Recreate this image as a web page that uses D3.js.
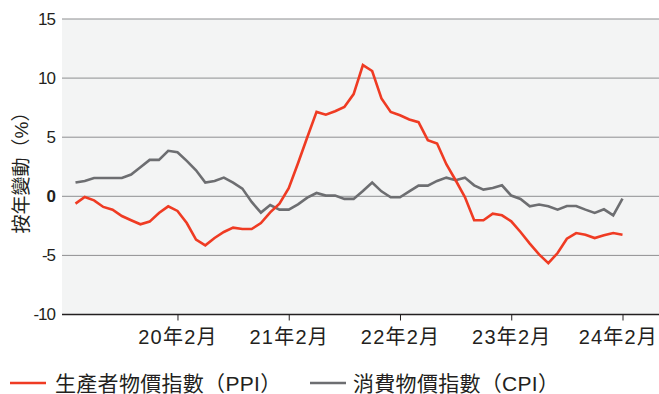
<!DOCTYPE html>
<html>
<head>
<meta charset="utf-8">
<script src="https://cdn.jsdelivr.net/npm/d3@7"></script>
<style>
  html, body { margin: 0; padding: 0; background: #ffffff; }
  svg { display: block; }
  text { font-family: "Liberation Sans", "Noto Sans CJK TC", sans-serif; fill: #231f20; }
</style>
</head>
<body>
<svg id="chart" width="659" height="394"></svg>
<script>
// Monthly observations, March 2019 through February 2024
const months = d3.range(60).map(i => new Date(2019, 2 + i, 1));

// Producer price index, year-on-year %
const ppi = [
  -0.62, -0.06, -0.34, -0.90, -1.13, -1.67, -2.03, -2.37, -2.14, -1.41,
  -0.85, -1.24, -2.26, -3.67, -4.15, -3.53, -3.02, -2.65, -2.77, -2.77,
  -2.26, -1.36, -0.62, 0.68, 2.80, 5.00, 7.14, 6.90, 7.20, 7.55,
  8.65, 11.10, 10.60, 8.28, 7.14, 6.86, 6.50, 6.27, 4.75, 4.47,
  2.71, 1.36, -0.06, -2.03, -2.03, -1.47, -1.61, -2.12, -3.02, -4.00,
  -4.92, -5.65, -4.80, -3.59, -3.11, -3.25, -3.53, -3.30, -3.11, -3.25
];

// Consumer price index, year-on-year %
const cpi = [
  1.16, 1.30, 1.55, 1.55, 1.55, 1.55, 1.84, 2.45, 3.08, 3.08,
  3.85, 3.72, 3.00, 2.20, 1.16, 1.30, 1.58, 1.16, 0.65, -0.48,
  -1.38, -0.74, -1.13, -1.13, -0.68, -0.11, 0.28, 0.06, 0.06, -0.22,
  -0.22, 0.45, 1.16, 0.42, -0.08, -0.08, 0.42, 0.90, 0.90, 1.30,
  1.58, 1.36, 1.58, 0.93, 0.57, 0.70, 0.93, 0.06, -0.23, -0.85,
  -0.70, -0.85, -1.13, -0.82, -0.82, -1.13, -1.41, -1.10, -1.61, -0.20
];

const yTicks = [15, 10, 5, 0, -5, -10];
const xTickIndex = [11, 23, 35, 47, 59];
const xTickLabels = ["20年2月", "21年2月", "22年2月", "23年2月", "24年2月"];

const seriesNames = ["生產者物價指數（PPI）", "消費物價指數（CPI）"];
const seriesColors = ["#ef3b23", "#6d6e71"];

const W = 659, H = 394;
const plot = { left: 62, right: 659, top: 19, bottom: 314.5 };

const svg = d3.select("#chart");

const x = d3.scaleLinear().domain([0, months.length - 1]).range([75.5, 622.5]);
const y = d3.scaleLinear().domain([-10, 15]).range([plot.bottom, plot.top]);

// Plot background
svg.append("rect")
  .attr("x", plot.left).attr("y", plot.top)
  .attr("width", plot.right - plot.left).attr("height", plot.bottom - plot.top)
  .attr("fill", "#f3f4f4");

// Horizontal gridlines
svg.append("g").selectAll("line")
  .data(yTicks.filter(v => v !== -10))
  .join("line")
  .attr("x1", plot.left).attr("x2", plot.right)
  .attr("y1", d => y(d)).attr("y2", d => y(d))
  .attr("stroke", "#8e8f91").attr("stroke-width", 1);

// Y axis labels (plain hyphen for negatives)
const yAxis = svg.append("g")
  .attr("transform", `translate(${plot.left},0)`)
  .call(d3.axisLeft(y).tickValues(yTicks).tickSize(0).tickPadding(7).tickFormat(d => String(d)));
yAxis.select(".domain").remove();
yAxis.selectAll("text")
  .style("font-size", "17px")
  .style("letter-spacing", "-1px")
  .style("font-weight", d => d === 0 ? "bold" : "normal")
  .attr("fill", "#231f20");

// X axis (baseline at -10)
const xAxis = svg.append("g")
  .attr("transform", `translate(0,${plot.bottom})`)
  .call(d3.axisBottom(x).tickValues(xTickIndex).tickSize(6).tickPadding(9)
    .tickFormat((d, i) => xTickLabels[i]));
xAxis.select(".domain")
  .attr("d", `M${plot.left},0H${plot.right}`)
  .attr("stroke", "#231f20").attr("stroke-width", 1.5);
xAxis.selectAll(".tick line").attr("stroke", "#231f20").attr("stroke-width", 1);
xAxis.selectAll("text")
  .style("font-size", "20px")
  .style("letter-spacing", "1.2px")
  .attr("fill", "#231f20");

// Keep the last label inside the right edge
xAxis.selectAll(".tick text").each(function () {
  const box = this.getBBox();
  const tx = +this.parentNode.getAttribute("transform").match(/translate\(([-\d.]+)/)[1];
  const overflow = tx + box.x + box.width - (W - 1);
  if (overflow > 0) d3.select(this).attr("dx", -overflow);
});

// Series lines
const line = d3.line().x((d, i) => x(i)).y(d => y(d));
[cpi, ppi].forEach((vals, k) => {
  svg.append("path")
    .datum(vals)
    .attr("fill", "none")
    .attr("stroke", k === 0 ? seriesColors[1] : seriesColors[0])
    .attr("stroke-width", 2.6)
    .attr("stroke-linejoin", "miter")
    .attr("d", line);
});

// Y axis title
svg.append("text")
  .attr("transform", "translate(28,168) rotate(-90)")
  .attr("text-anchor", "middle")
  .style("font-size", "19px")
  .text("按年變動（%）");

// Legend
const legendPos = [{ x: 10, tx: 55 }, { x: 310, tx: 353 }];
seriesNames.forEach((name, k) => {
  const g = svg.append("g");
  g.append("line")
    .attr("x1", legendPos[k].x).attr("x2", legendPos[k].x + 36)
    .attr("y1", 383).attr("y2", 383)
    .attr("stroke", seriesColors[k]).attr("stroke-width", 2.6);
  g.append("text")
    .attr("x", legendPos[k].tx).attr("y", 391)
    .style("font-size", "21px")
    .style("letter-spacing", "0.3px")
    .text(name);
});
</script>
</body>
</html>
